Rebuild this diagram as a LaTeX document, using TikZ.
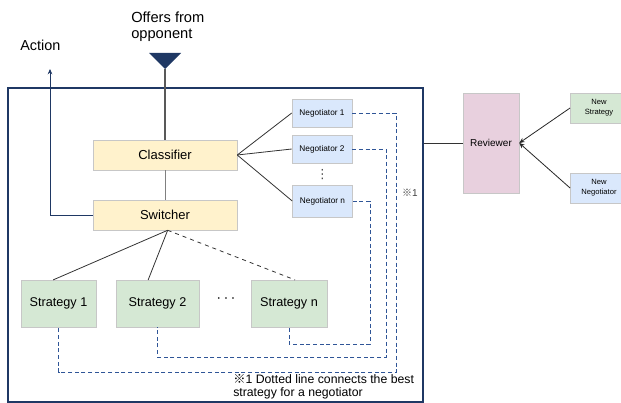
\documentclass[tikz,border=0pt]{standalone}
\usepackage{fontspec}
\setmainfont{Liberation Sans}
\newfontfamily\cjk{Noto Sans CJK JP}
\newfontfamily\dejavu{DejaVu Sans}
\usepackage{tikz}
\usetikzlibrary{arrows.meta}

\definecolor{navy}{HTML}{1F3864}
\definecolor{dashblue}{HTML}{2F5597}
\definecolor{yelfill}{HTML}{FFF2CC}
\definecolor{grnfill}{HTML}{D5E8D4}
\definecolor{blufill}{HTML}{DAE8FC}
\definecolor{pinkfill}{HTML}{E8D0DE}

\begin{document}
\begin{tikzpicture}[x=0.75pt, y=-0.75pt]
        \tikzstyle{module} = [draw=black!22, fill=yelfill, minimum width=108pt, minimum height=22.5pt, font=\fontsize{9.75}{11}\selectfont]
        \tikzstyle{strat} = [draw=black!22, fill=grnfill, minimum height=35pt, font=\fontsize{9.5}{11}\selectfont]
        \tikzstyle{nego} = [draw=black!22, fill=blufill, minimum width=45pt, minimum height=21pt, font=\fontsize{6.2}{7}\selectfont]
        \tikzstyle{newbox} = [draw=black!22, minimum width=43pt, minimum height=22.5pt, align=center, font=\fontsize{5.7}{7.5}\selectfont]
        \tikzstyle{tight} = [black!80, semithick]
        \tikzstyle{untight} = [black!80, semithick, dashed]
        \tikzstyle{best} = [dashblue, semithick, dash pattern=on 3pt off 2pt]
        \useasboundingbox (0,0) rectangle (621,403);
        % frame and inputs
        \node[draw=navy, line width=0.9pt, minimum width=311.25pt, minimum height=235.5pt, inner sep=0pt] (frame) at (215.5,245) {};
        \fill[navy] (149,53) -- (181,53) -- (165,69) coordinate (tip) -- cycle;
        \node[align=left, anchor=west, inner sep=0pt, font=\fontsize{11}{12}\selectfont] (offers) at (131,27) {Offers from\\opponent};
        \node[anchor=west, inner sep=0pt, font=\fontsize{10.8}{12}\selectfont] (action) at (20,45) {Action};
        \coordinate (out) at (50,69);
        % modules
        \node[module] (C) at (165,155) {Classifier};
        \node[module] (S) at (165,215) {Switcher};
        \node[nego] (N1) at (322,113) {Negotiator 1};
        \node[nego] (N2) at (322,149) {Negotiator 2};
        \node[nego, minimum height=24pt] (Nn) at (322.5,201) {Negotiator n};
        \node[inner sep=0pt, text=black!70, font=\dejavu\fontsize{9.5}{9.5}\selectfont] (vd) at (322.5,175) {⋮};
        \node[strat, minimum width=56.25pt] (S1) at (58.5,303.5) {Strategy 1};
        \node[strat, minimum width=62.25pt] (S2) at (157.5,303.5) {Strategy 2};
        \node[strat, minimum width=57pt] (Sn) at (289,303.5) {Strategy n};
        \node[inner sep=0pt, font=\fontsize{12}{12}\selectfont] (hd) at (226,299) {$\cdots$};
        % review side
        \node[draw=black!22, fill=pinkfill, minimum width=42pt, minimum height=75pt, font=\fontsize{7.5}{9}\selectfont] (R) at (491,143) {Reviewer};
        \node[newbox, fill=grnfill] (NS) at (599,108) {New\\Strategy};
        \node[newbox, fill=blufill] (NN) at (599,188) {New\\Negotiator};
        % notes
        \node[font=\fontsize{7.5}{9}\selectfont, text=black!75] (mark) at (410,193) {{\cjk ※}1};
        \node[align=left, anchor=north west, inner sep=0pt, font=\fontsize{9.2}{9.75}\selectfont] (note) at (233,374.5) {{\cjk ※}1 Dotted line connects the best\\strategy for a negotiator};
        % connectors
        \draw[black!65, line width=1pt] (tip) -- (C.north);
        \draw[black!50, semithick] (C.south) -- (S.north);
        \draw[navy, semithick, -{Stealth[length=4pt, width=3.5pt]}] (S.west) -| (out);
        \coordinate (fan) at ([xshift=2pt]S.south);
        \path[tight]
        (C.east) edge (N1.west)
        (C.east) edge (N2.west)
        (C.east) edge (Nn.west)
        (fan) edge ([xshift=-4pt]S1.north)
        (fan) edge ([xshift=-7pt]S2.north);
        \path[untight]
        (fan) edge ([xshift=4.5pt]Sn.north);
        \draw[black!80, semithick] (frame.east |- R.west) -- (R.west);
        \draw[black!85, semithick, -{Stealth[length=4pt, width=3.5pt]}] (NS.west) -- (R.east);
        \draw[black!85, semithick, -{Stealth[length=4pt, width=3.5pt]}] (NN.west) -- (R.east);
        % best strategy links
        \draw[best] (N1.east) -| (396,372) -| (S1.south);
        \draw[best] (N2.east) -| (386,357) -| (S2.south);
        \draw[best] (Nn.east) -| (370,344) -| (Sn.south);
    \end{tikzpicture}
\end{document}
